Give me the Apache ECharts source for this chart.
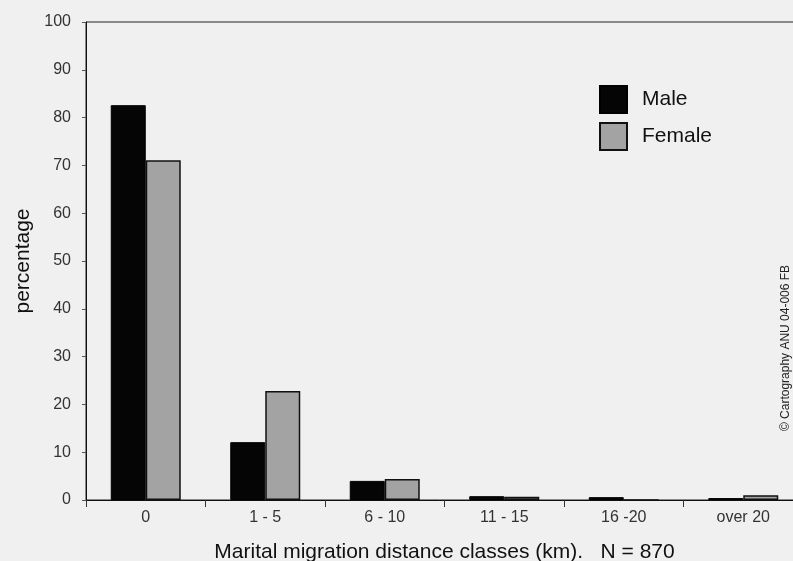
<!DOCTYPE html>
<html><head><meta charset="utf-8">
<script src="https://cdn.jsdelivr.net/npm/echarts@6/dist/echarts.min.js"></script>
<style>html,body{margin:0;padding:0;background:#f0f0f0}#c{width:793px;height:561px}</style>
</head><body><div id="c"></div>
<script>
const categories = ['0', '1 - 5', '6 - 10', '11 - 15', '16 -20', 'over 20'];
const maleValues = [82.6, 12.1, 4.0, 0.8, 0.6, 0.4];
const femaleValues = [71.1, 22.8, 4.4, 0.7, 0, 1.0];
const yTicks = { min: 0, max: 100, interval: 10 };

const font = '"Liberation Sans", Arial, sans-serif';
const chart = echarts.init(document.getElementById('c'));
chart.setOption({
  backgroundColor: '#f0f0f0',
  animation: false,
  grid: { left: 86, top: 22, width: 717, height: 478, outerBoundsMode: 'none', containLabel: false,
          show: true, borderColor: '#222', borderWidth: 1, backgroundColor: 'transparent' },
  legend: {
    orient: 'vertical', left: 599, top: 85, padding: 0, itemWidth: 27, itemHeight: 27, itemGap: 8,
    icon: 'rect',
    textStyle: { fontFamily: font, fontSize: 21, color: '#111', padding: [0, 0, 0, 10] },
    data: ['Male', 'Female']
  },
  xAxis: {
    type: 'category', data: categories,
    name: 'Marital migration distance classes (km).   N = 870', nameLocation: 'middle', nameGap: 42,
    nameTextStyle: { fontFamily: font, fontSize: 21, color: '#111' },
    axisLine: { lineStyle: { color: '#111' } },
    axisTick: { show: true, length: 7, lineStyle: { color: '#333' } },
    axisLabel: { fontFamily: font, fontSize: 16, color: '#333', margin: 10 }
  },
  yAxis: {
    type: 'value', min: yTicks.min, max: yTicks.max, interval: yTicks.interval,
    name: 'percentage', nameLocation: 'middle', nameGap: 50, nameRotate: 90,
    nameTextStyle: { fontFamily: font, fontSize: 21, color: '#111' },
    axisLine: { show: true, lineStyle: { color: '#111' } },
    axisTick: { show: true, length: 4, lineStyle: { color: '#555' } },
    splitLine: { show: false },
    axisLabel: { fontFamily: font, fontSize: 16, color: '#333', margin: 15 }
  },
  series: [
    { name: 'Male', type: 'bar', data: maleValues, barWidth: 35, barGap: '0%',
      itemStyle: { color: '#050505', borderColor: '#000', borderWidth: 1 } },
    { name: 'Female', type: 'bar', data: femaleValues, barWidth: 35,
      itemStyle: { color: '#a3a3a3', borderColor: '#111', borderWidth: 1.5 } }
  ],
  graphic: [{
    type: 'text', x: 786, y: 348, rotation: Math.PI / 2,
    style: { text: '© Cartography ANU 04-006 FB', font: '12px ' + font, fill: '#222', align: 'center', verticalAlign: 'middle' }
  }]
});
</script></body></html>
